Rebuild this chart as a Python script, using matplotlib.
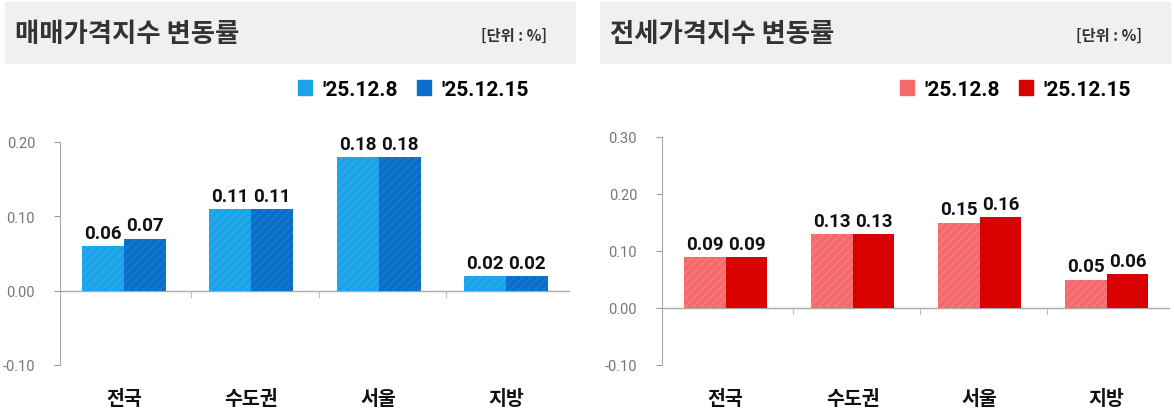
import matplotlib.pyplot as plt
import matplotlib.patches as mpatches
import numpy as np

# data
regions = ['전국', '수도권', '서울', '지방']
weeks = ["'25.12.8", "'25.12.15"]
sale_prev = [0.06, 0.11, 0.18, 0.02]
sale_curr = [0.07, 0.11, 0.18, 0.02]
rent_prev = [0.09, 0.13, 0.15, 0.05]
rent_curr = [0.09, 0.13, 0.16, 0.06]

kr = ['Noto Sans CJK KR', 'DejaVu Sans']
num = ['Roboto', 'DejaVu Sans']
plt.rcParams['font.family'] = kr
plt.rcParams['hatch.linewidth'] = 0.6

W, H = 1174, 410
fig = plt.figure(figsize=(W / 100, H / 100), dpi=100)


def px(x0, y0, x1, y1):
    # pixel box -> figure fraction
    return [x0 / W, 1 - y1 / H, (x1 - x0) / W, (y1 - y0) / H]


def panel(box, header, title, prev, curr, colors, hatch_c, ylim, yticks, leg_x):
    # grey header band
    hx0, hx1 = header
    fig.patches.append(mpatches.Rectangle((hx0 / W, 1 - 64 / H), (hx1 - hx0) / W, 61 / H,
                                          transform=fig.transFigure, color='#f0f0f0', zorder=0))
    fig.text((hx0 + 10) / W, 1 - 34 / H, title, fontsize=19, fontweight='bold',
             color='#333333', va='center', ha='left')
    fig.text((hx1 - 28) / W, 1 - 36 / H, '[단위 : %]', fontsize=11, fontweight='bold',
             color='#333333', va='center', ha='right')

    ax = fig.add_axes(px(*box))
    x = np.arange(len(regions))
    w = 0.33
    b1 = ax.bar(x - w / 2, prev, w, color=colors[0], hatch='////', edgecolor=hatch_c[0],
                linewidth=0, zorder=2)
    b2 = ax.bar(x + w / 2, curr, w, color=colors[1], hatch=hatch_c[2], edgecolor=hatch_c[1],
                linewidth=0, zorder=2)
    for bars, vals in ((b1, prev), (b2, curr)):
        for r, v in zip(bars, vals):
            ax.annotate(f'{v:.2f}', (r.get_x() + r.get_width() / 2, v), xytext=(0, 3),
                        textcoords='offset points', ha='center', va='bottom',
                        fontsize=13.5, fontweight='bold', family=num, color='#111111')

    ax.set_xlim(-0.5, len(regions) - 0.5)
    ax.set_ylim(*ylim)
    ax.set_yticks(yticks)
    ax.set_yticklabels([f'{t:.2f}' for t in yticks], family=num, fontsize=10.5, color='#777777')
    ax.tick_params(axis='y', length=4, color='#999999', pad=14)
    ax.axhline(0, color='#aaaaaa', lw=1, zorder=1)
    for s in ('top', 'right', 'bottom'):
        ax.spines[s].set_visible(False)
    ax.spines['left'].set_color('#aaaaaa')
    ax.set_xticks(x)
    ax.set_xticklabels(regions, fontsize=14, fontweight='bold', color='#111111')
    ax.tick_params(axis='x', length=0, pad=17)
    # small boundary ticks under the zero line
    for bx in np.arange(0.5, len(regions) - 0.5, 1):
        ax.plot([bx + 0.03, bx + 0.03], [0, -0.008 * (ylim[1] - ylim[0]) / 0.3],
                color='#bbbbbb', lw=0.8)

    handles = [mpatches.Patch(color=colors[0]), mpatches.Patch(color=colors[1])]
    fig.legend(handles, weeks, loc='center right', bbox_to_anchor=(leg_x / W, 1 - 90 / H),
               ncol=2, frameon=False, handlelength=0.7, handleheight=0.7,
               handletextpad=0.5, columnspacing=0.9,
               prop={'family': num, 'weight': 'bold', 'size': 15})
    return ax


panel((60, 143, 570, 366), (5, 575), '매매가격지수 변동률', sale_prev, sale_curr,
      ('#1aa3e6', '#0b6fca'), ('#3ab2ee', '#2583d6', '////'), (-0.10, 0.20),
      [-0.10, 0.00, 0.10, 0.20], 548)
panel((662, 138, 1170, 366), (600, 1170), '전세가격지수 변동률', rent_prev, rent_curr,
      ('#f56b6b', '#d90000'), ('#f88a8a', '#d90000', None), (-0.10, 0.30),
      [-0.10, 0.00, 0.10, 0.20, 0.30], 1150)

fig.savefig('out.png', dpi=100)
